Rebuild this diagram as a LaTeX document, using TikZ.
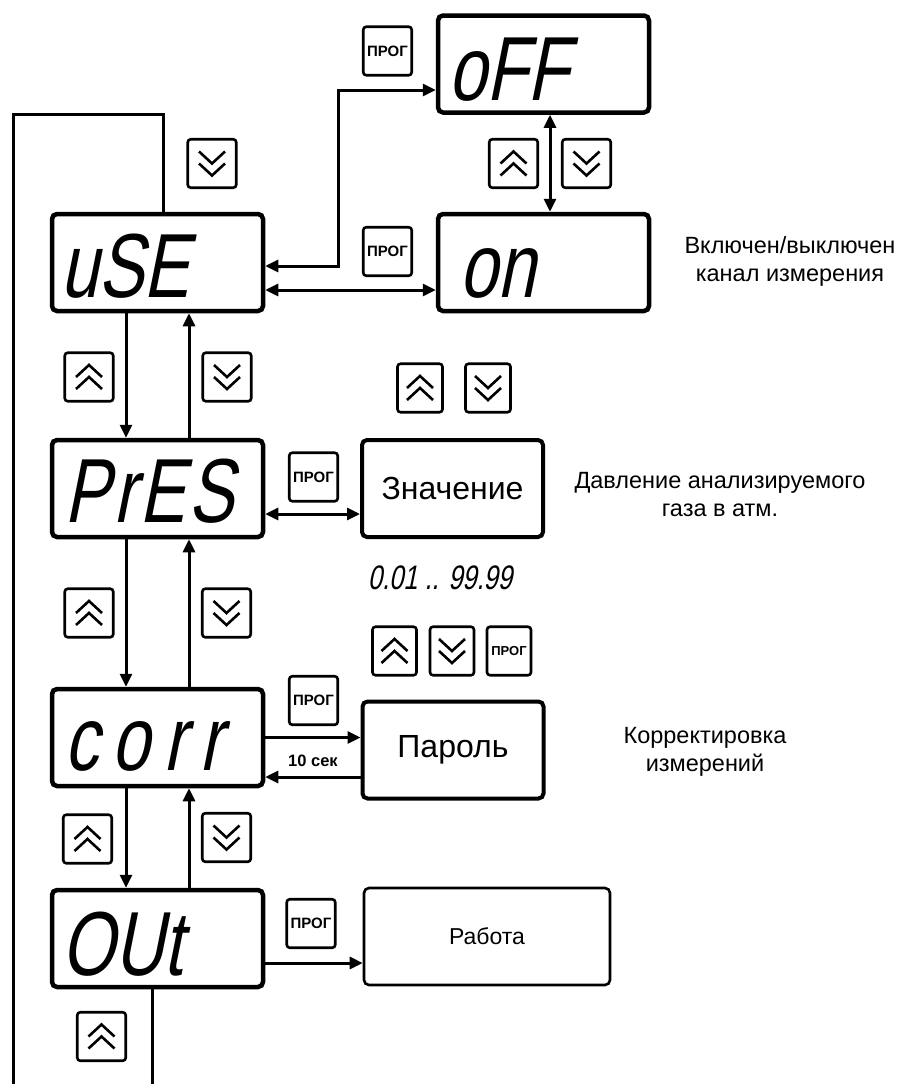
\documentclass[tikz,border=0pt]{standalone}
\usepackage{fontspec}
\setmainfont{Liberation Sans}
\newfontfamily\segfont[FakeSlant=0.2,FakeStretch=0.75]{Liberation Sans}
\usetikzlibrary{arrows.meta}

\tikzset{
	display/.style={draw,line width=4.5pt,rounded corners=5pt,minimum width=211pt,minimum height=97pt,inner sep=0pt},
	valbox/.style={draw,line width=4pt,rounded corners=5pt,minimum width=181pt,minimum height=97pt,font=\fontsize{32}{32}\selectfont},
	btn/.style={draw,line width=2.6pt,rounded corners=3pt,minimum width=48.5pt,minimum height=48.5pt,inner sep=0pt},
	prog/.style={btn,font=\bfseries\fontsize{15}{15}\selectfont},
	btnup/.style={btn,path picture={
		\draw[line width=2.6pt,sharp corners] ([shift={(-13,0)}]path picture bounding box.center) -- ++(13,-12) -- ++(13,12)
			([shift={(-13,12)}]path picture bounding box.center) -- ++(13,-12) -- ++(13,12);}},
	btndn/.style={btn,path picture={
		\draw[line width=2.6pt,sharp corners] ([shift={(-13,-12)}]path picture bounding box.center) -- ++(13,12) -- ++(13,-12)
			([shift={(-13,0)}]path picture bounding box.center) -- ++(13,12) -- ++(13,-12);}},
	segtext/.style={anchor=base west,inner sep=0pt,font=\segfont\fontsize{91}{91}\selectfont},
	note/.style={align=center,font=\fontsize{23.5}{28}\selectfont},
	link/.style={line width=3pt}
}

\begin{document}
\begin{tikzpicture}[x=1pt,y=-1pt,>={Triangle[length=13pt,width=12pt]}]
	\useasboundingbox (0,0) rectangle (917,1084);

	%displays
	\node[display] (uSE)  at (157.5,262.5) {};
	\node[display] (oFF)  at (543.5,64)    {};
	\node[display] (on)   at (543.5,262.5) {};
	\node[display] (PrES) at (157.5,488.5) {};
	\node[display] (corr) at (157.5,737.5) {};
	\node[display] (OUt)  at (157.5,938.5) {};

	%display texts
	\node[segtext] (uSEtxt)  at (60,297)  {uSE};
	\node[segtext] (oFFtxt)  at (448,100) {oFF};
	\node[segtext] (ontxt)   at (459,297) {on};
	\node[segtext] (PrEStxt) at (64,522)  {\addfontfeature{LetterSpace=4}PrES};
	\node[segtext] (corrtxt) at (64,770)  {\addfontfeature{LetterSpace=15}corr};
	\node[segtext] (OUttxt)  at (61,975)  {OUt};

	%value boxes
	\node[valbox] (val)  at (452.5,488.5) {Значение};
	\node[valbox] (pass) at (453,750)     {Пароль};
	\node[valbox,line width=2.6pt,minimum width=246pt,font=\fontsize{23}{23}\selectfont] (work) at (487,936.5) {Работа};

	%buttons
	\node[prog]  (prog1) at (387.5,51)    {ПРОГ};
	\node[prog]  (prog2) at (387.5,251.5) {ПРОГ};
	\node[btndn] (dn0)   at (212,163.5)   {};
	\node[btnup] (up1)   at (513.5,163.5) {};
	\node[btndn] (dn1)   at (586.5,163.5) {};
	\node[btnup] (up2)   at (89,377)      {};
	\node[btndn] (dn2)   at (227,377)     {};
	\node[btnup,minimum width=45pt] (up3) at (420,388) {};
	\node[btndn,minimum width=45pt] (dn3) at (488,388) {};
	\node[prog]  (prog3) at (313.5,477)   {ПРОГ};
	\node[btnup] (up4)   at (89,613)      {};
	\node[btndn] (dn4)   at (226.5,613)   {};
	\node[btnup,minimum width=44pt] (up5) at (394.5,651) {};
	\node[btndn,minimum width=44pt] (dn5) at (452,651)   {};
	\node[prog,minimum width=44pt,font=\bfseries\fontsize{13}{13}\selectfont] (prog5) at (509,651) {ПРОГ};
	\node[prog]  (prog4) at (313.5,700.5) {ПРОГ};
	\node[btnup] (up6)   at (87.5,839)    {};
	\node[btndn] (dn6)   at (226.5,837.5) {};
	\node[prog]  (prog6) at (311,923.5)   {ПРОГ};
	\node[btnup] (up7)   at (101.5,1036.5) {};

	%connectors
	\coordinate (offbend) at (338,90);
	\draw[link,<->] ([yshift=-3.5pt]uSE.east) -| (offbend) -- ([yshift=-26pt]oFF.west);
	\draw[link,<->] ([yshift=-27.5pt]uSE.east) -- ([yshift=-27.5pt]on.west);
	\draw[link,<->] ([xshift=6.5pt]oFF.south) -- ([xshift=6.5pt]on.north);
	%
	\draw[link,->] ([xshift=-31.5pt]uSE.south)  -- ([xshift=-31.5pt]PrES.north);
	\draw[link,->] ([xshift=31.5pt]PrES.north)  -- ([xshift=31.5pt]uSE.south);
	\draw[link,->] ([xshift=-31.5pt]PrES.south) -- ([xshift=-31.5pt]corr.north);
	\draw[link,->] ([xshift=31.5pt]corr.north)  -- ([xshift=31.5pt]PrES.south);
	\draw[link,->] ([xshift=-31.5pt]corr.south) -- ([xshift=-31.5pt]OUt.north);
	\draw[link,->] ([xshift=31.5pt]OUt.north)   -- ([xshift=31.5pt]corr.south);
	%
	\draw[link,<->] ([yshift=-25.5pt]PrES.east) -- ([yshift=-25.5pt]val.west);
	\coordinate (fwd) at (corr.east);
	\coordinate (back) at ([yshift=-39.5pt]corr.east);
	\draw[link,->] (fwd) -- (fwd -| pass.west);
	\draw[link,->] (back -| pass.west) -- (back);
	\coordinate (out) at ([yshift=-24.5pt]OUt.east);
	\draw[link,->] (out) -- (out -| work.west);
	%
	\coordinate (looptop) at (13,114);
	\coordinate (loopbot) at (13,1084);
	\draw[link] ([xshift=5.5pt]uSE.north) |- (looptop) -- (loopbot);
	\draw[link] ([xshift=-5.5pt]OUt.south) -- ++(0,96);

	%labels
	\node[note] (usenote)  at (790,261) {Включен/выключен\\канал измерения};
	\node[note] (presnote) at (720,495) {Давление анализируемого\\газа в атм.};
	\node[note] (corrnote) at (705,752) {Корректировка\\измерений};
	\node[font=\segfont\fontsize{34}{34}\selectfont] (range) at (440,578) {0.01 .. 99.99};
	\node[font=\bfseries\fontsize{16.5}{16.5}\selectfont] (delay) at (313,761) {10 сек};
\end{tikzpicture}
\end{document}
